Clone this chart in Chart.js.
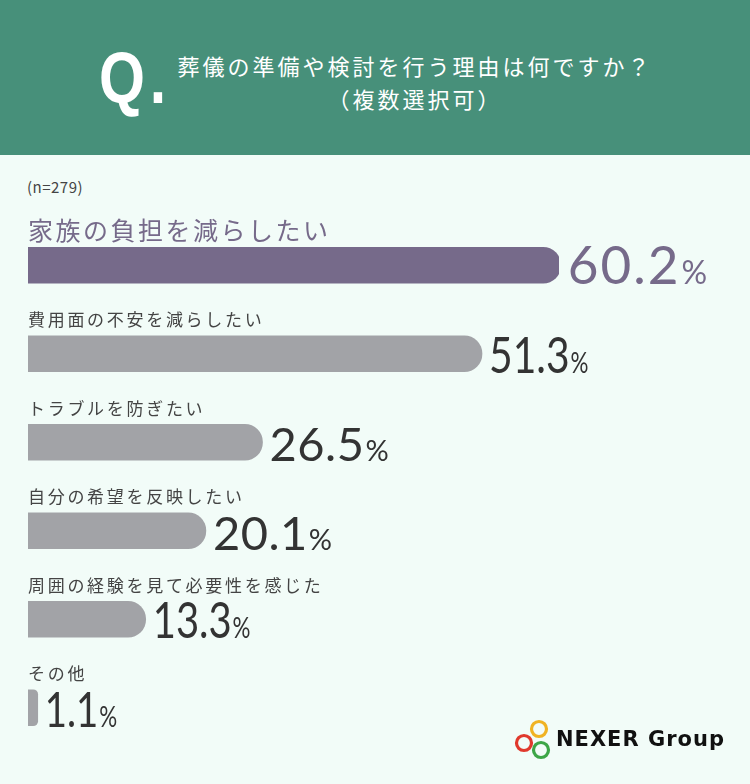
<!DOCTYPE html>
<html><head><meta charset="utf-8">
<script src="https://cdn.jsdelivr.net/npm/chart.js@4"></script>
<style>
html,body{margin:0;padding:0;}
body{width:750px;height:784px;background:#f2fcf8;position:relative;overflow:hidden;font-family:"Noto Sans CJK JP",sans-serif;}
#header{position:absolute;left:0;top:0;width:750px;height:155px;background:#47907a;}
#q{position:absolute;left:99px;top:42px;font:bold 72px/72px "Liberation Sans",sans-serif;color:#fff;letter-spacing:6px;transform:scaleX(0.82);transform-origin:0 0;}
.t{position:absolute;left:0;width:830px;text-align:center;color:#fff;font-size:22px;line-height:33px;letter-spacing:3px;}
#n{position:absolute;left:27px;top:176px;font-size:15px;line-height:22px;color:#444;letter-spacing:0.5px;}
#wrap{position:absolute;left:0;top:155px;width:750px;height:629px;}
#logo{position:absolute;left:511px;top:716px;}
#logotext{position:absolute;left:556px;top:725px;font:bold 21px/28px "DejaVu Sans",sans-serif;color:#111;letter-spacing:1px;}
</style></head>
<body>
<div id="header">
  <div id="q">Q.</div>
  <div class="t" style="top:49px;">葬儀の準備や検討を行う理由は何ですか？</div>
  <div class="t" style="top:82px;">（複数選択可）</div>
</div>
<div id="n">(n=279)</div>
<div id="wrap"><canvas id="c" width="750" height="629"></canvas></div>
<svg id="logo" width="46" height="50" viewBox="0 0 46 50">
  <circle cx="28" cy="13" r="7.5" fill="none" stroke="#f0b323" stroke-width="3.2"/>
  <circle cx="13" cy="27" r="7.5" fill="none" stroke="#e0392d" stroke-width="3.2"/>
  <circle cx="30" cy="34" r="7.5" fill="none" stroke="#3da647" stroke-width="3.2"/>
</svg>
<div id="logotext">NEXER Group</div>
<script>
const categories = ['家族の負担を減らしたい','費用面の不安を減らしたい','トラブルを防ぎたい','自分の希望を反映したい','周囲の経験を見て必要性を感じた','その他'];
const values = [60.2, 51.3, 26.5, 20.1, 13.3, 1.1];

const PURPLE = '#766a8a';
const GRAY = '#a2a3a7';
// text styling per row (horizontal squeeze, font size, letter spacing)
const numScale = [1, 0.8, 1, 1, 0.8, 0.8];
const numSize = [53, 51, 47, 47, 50, 48];
const numSpacing = [2, 0, 0.5, 0.5, 0, 0];
const pctSize = [32, 28, 29, 29, 28, 28];

const labelPlugin = {
  id: 'labels',
  afterDatasetsDraw(chart) {
    const ctx = chart.ctx;
    const meta = chart.getDatasetMeta(0);
    const left = chart.chartArea.left;
    meta.data.forEach((bar, i) => {
      const first = i === 0;
      const bottom = bar.y + bar.height / 2;
      ctx.save();
      ctx.textAlign = 'left';
      ctx.textBaseline = 'middle';
      ctx.font = (first ? '25px' : '17px') + ' "Noto Sans CJK JP",sans-serif';
      ctx.letterSpacing = first ? '2.5px' : '2.7px';
      ctx.fillStyle = first ? PURPLE : '#444';
      ctx.fillText(categories[i], left, bar.y - (first ? 35 : 34));
      ctx.restore();

      ctx.save();
      ctx.textAlign = 'left';
      ctx.textBaseline = 'alphabetic';
      ctx.fillStyle = first ? PURPLE : '#333';
      const num = values[i].toFixed(1);
      const x0 = bar.x + 7;
      ctx.translate(x0, bottom + 1);
      ctx.scale(numScale[i], 1);
      ctx.letterSpacing = numSpacing[i] + 'px';
      ctx.font = numSize[i] + 'px Lato,sans-serif';
      ctx.fillText(num, 0, 0);
      const w = ctx.measureText(num).width;
      ctx.letterSpacing = '0px';
      ctx.font = pctSize[i] + 'px Lato,sans-serif';
      ctx.fillText('%', w + 1, 0);
      ctx.restore();
    });
  }
};

new Chart(document.getElementById('c'), {
  type: 'bar',
  data: {
    labels: categories,
    datasets: [{
      data: values,
      backgroundColor: values.map((v, i) => i === 0 ? PURPLE : GRAY),
      barThickness: 36,
      borderRadius: 18,
      borderSkipped: 'start'
    }]
  },
  options: {
    indexAxis: 'y',
    responsive: false,
    animation: false,
    layout: { padding: { top: 66, bottom: 32, left: 28, right: 191 } },
    plugins: { legend: { display: false }, tooltip: { enabled: false } },
    scales: {
      x: { display: false, min: 0, max: 60, grid: { display: false } },
      y: { display: false, grid: { display: false } }
    }
  },
  plugins: [labelPlugin]
});
</script>
</body></html>
